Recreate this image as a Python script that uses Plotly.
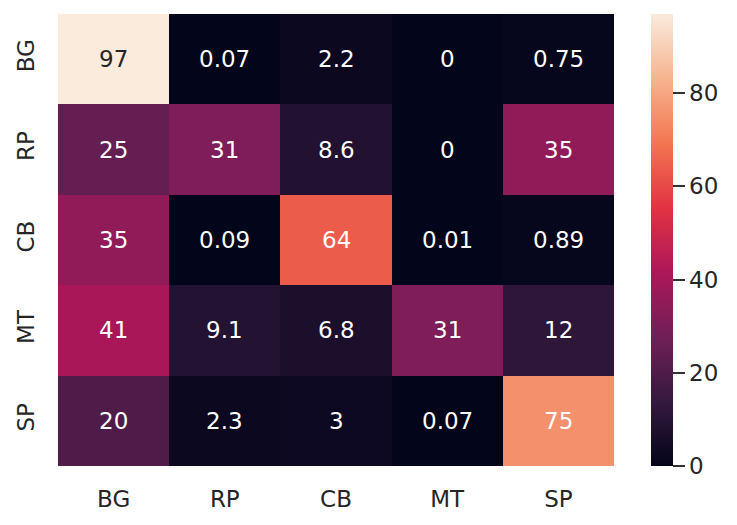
import plotly.graph_objects as go

categories = ["BG", "RP", "CB", "MT", "SP"]
values = [
    [97, 0.07, 2.2, 0, 0.75],
    [25, 31, 8.6, 0, 35],
    [35, 0.09, 64, 0.01, 0.89],
    [41, 9.1, 6.8, 31, 12],
    [20, 2.3, 3, 0.07, 75],
]
colorbar_ticks = [0, 20, 40, 60, 80]

rocket = [
    [0.0, "#03051a"],
    [1/7, "#35193e"],
    [2/7, "#701f57"],
    [3/7, "#ad1759"],
    [4/7, "#e13342"],
    [5/7, "#f37651"],
    [6/7, "#f6b48f"],
    [1.0, "#faebdd"],
]

zmax = max(max(r) for r in values)
zmin = min(min(r) for r in values)

font = "DejaVu Sans"
FS = 23
fig = go.Figure(go.Heatmap(
    z=values, x=categories, y=categories,
    colorscale=rocket, zmin=zmin, zmax=zmax,
    xgap=0, ygap=0,
    colorbar=dict(
        x=1.0665, xanchor="left", thickness=22, len=1, lenmode="fraction",
        y=0.5, yanchor="middle", outlinewidth=0, xpad=0, ypad=0,
        tickvals=colorbar_ticks, ticks="outside", ticklen=12, tickwidth=2,
        tickcolor="#333333",
        tickfont=dict(family=font, size=FS, color="#262626"),
    ),
    hoverinfo="skip",
))

def fmt(v):
    return f"{v:.2g}"

annotations = []
for i, row in enumerate(values):
    for j, v in enumerate(row):
        frac = (v - zmin) / (zmax - zmin)
        annotations.append(dict(
            x=categories[j], y=categories[i], text=fmt(v), showarrow=False,
            font=dict(family=font, size=FS,
                      color="#262626" if frac > 0.9 else "#ffffff"),
        ))

fig.update_layout(
    width=721, height=509,
    margin=dict(l=50, r=115, t=6, b=51, autoexpand=False),
    paper_bgcolor="white", plot_bgcolor="white",
    annotations=annotations,
    xaxis=dict(showgrid=False, zeroline=False, ticks="outside", ticklen=12,
               tickcolor="rgba(0,0,0,0)", automargin=False,
               tickfont=dict(family=font, size=FS, color="#262626")),
    yaxis=dict(showgrid=False, zeroline=False, autorange="reversed",
               tickangle=-90, ticks="outside", ticklen=14,
               tickcolor="rgba(0,0,0,0)", automargin=False,
               tickfont=dict(family=font, size=FS, color="#262626")),
)

fig.write_html("out.html")
